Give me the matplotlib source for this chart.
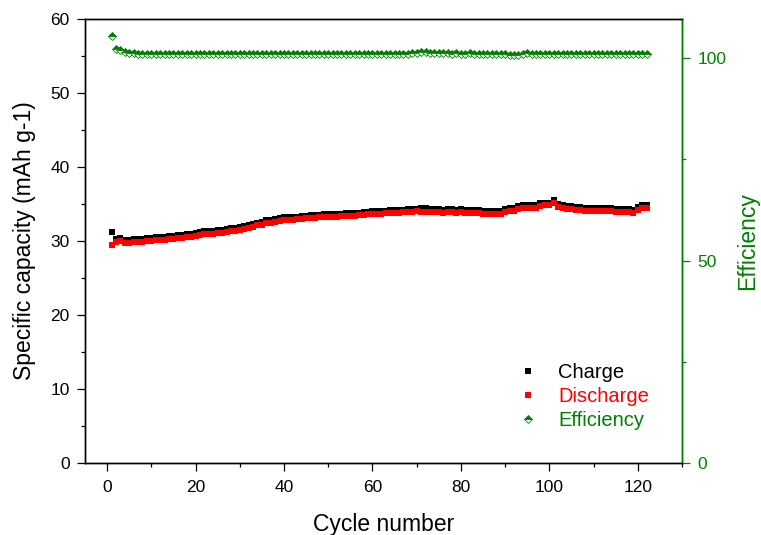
import numpy as np
import matplotlib
matplotlib.use("Agg")
import matplotlib.pyplot as plt
from matplotlib.ticker import MultipleLocator

plt.rcParams["font.family"] = ["Liberation Sans", "DejaVu Sans"]

cycles = list(range(1, 123))

charge = [
    31.2, 30.3, 30.4, 30.1, 30.1, 30.3, 30.3, 30.3, 30.4, 30.4,
    30.5, 30.5, 30.6, 30.7, 30.7, 30.8, 30.8, 30.9, 31.0, 31.1,
    31.2, 31.3, 31.3, 31.4, 31.5, 31.5, 31.6, 31.7, 31.8, 31.9,
    32.0, 32.2, 32.3, 32.5, 32.6, 32.8, 32.9, 33.0, 33.1, 33.2,
    33.2, 33.3, 33.3, 33.4, 33.4, 33.5, 33.5, 33.5, 33.6, 33.6,
    33.7, 33.7, 33.7, 33.8, 33.8, 33.8, 33.8, 33.9, 33.9, 34.0,
    34.0, 34.1, 34.1, 34.2, 34.2, 34.2, 34.2, 34.3, 34.3, 34.3,
    34.4, 34.4, 34.3, 34.3, 34.3, 34.2, 34.3, 34.3, 34.2, 34.3,
    34.2, 34.2, 34.2, 34.2, 34.1, 34.1, 34.1, 34.0, 34.1, 34.3,
    34.4, 34.5, 34.7, 34.8, 34.9, 34.8, 34.9, 35.1, 35.2, 35.2,
    35.5, 35.0, 34.8, 34.7, 34.7, 34.6, 34.6, 34.5, 34.5, 34.5,
    34.5, 34.4, 34.4, 34.4, 34.3, 34.3, 34.3, 34.3, 34.2, 34.6,
    34.8, 34.9,
]

discharge = [
    29.5, 29.9, 30.0, 29.7, 29.7, 29.9, 29.9, 29.9, 30.0, 30.0,
    30.1, 30.1, 30.2, 30.3, 30.3, 30.4, 30.4, 30.5, 30.6, 30.7,
    30.8, 30.9, 30.9, 31.0, 31.1, 31.1, 31.2, 31.3, 31.4, 31.5,
    31.6, 31.8, 31.9, 32.1, 32.2, 32.4, 32.5, 32.6, 32.7, 32.8,
    32.9, 32.9, 33.0, 33.0, 33.1, 33.1, 33.1, 33.2, 33.2, 33.3,
    33.3, 33.3, 33.4, 33.4, 33.4, 33.4, 33.5, 33.5, 33.6, 33.6,
    33.7, 33.7, 33.8, 33.8, 33.8, 33.8, 33.9, 33.9, 33.9, 34.0,
    33.9, 33.9, 33.9, 33.9, 33.9, 33.8, 33.9, 33.9, 33.8, 33.9,
    33.8, 33.8, 33.8, 33.8, 33.7, 33.7, 33.7, 33.6, 33.7, 33.9,
    34.0, 34.1, 34.3, 34.4, 34.5, 34.4, 34.5, 34.7, 34.8, 34.8,
    35.1, 34.6, 34.4, 34.3, 34.3, 34.2, 34.2, 34.1, 34.1, 34.1,
    34.1, 34.0, 34.0, 34.0, 33.9, 33.9, 33.9, 33.9, 33.8, 34.2,
    34.4, 34.5,
]

efficiency = [
    105.6, 102.2, 102.0, 101.6, 101.3, 101.2, 101.1, 101.1, 101.0, 101.1,
    101.0, 101.1, 101.0, 101.0, 101.1, 101.0, 101.0, 101.1, 101.0, 101.0,
    101.1, 101.0, 101.1, 101.0, 101.0, 101.1, 101.0, 101.1, 101.0, 101.0,
    101.1, 101.0, 101.1, 101.0, 101.1, 101.0, 101.0, 101.1, 101.0, 101.1,
    101.0, 101.1, 101.0, 101.0, 101.1, 101.0, 101.1, 101.0, 101.0, 101.1,
    101.0, 101.1, 101.0, 101.1, 101.0, 101.0, 101.1, 101.0, 101.1, 101.0,
    101.1, 101.0, 101.0, 101.1, 101.0, 101.1, 101.0, 101.1, 101.2, 101.4,
    101.6, 101.5, 101.3, 101.2, 101.3, 101.2, 101.2, 101.1, 101.2, 101.1,
    101.1, 101.2, 101.1, 101.1, 101.0, 101.1, 101.0, 101.0, 101.1, 101.0,
    100.9, 100.9, 100.8, 101.0, 101.2, 101.1, 101.0, 101.1, 101.0, 101.1,
    101.0, 101.1, 101.0, 101.0, 101.1, 101.0, 101.0, 101.1, 101.0, 101.0,
    101.1, 101.0, 101.0, 101.1, 101.0, 101.0, 101.1, 101.0, 101.0, 101.1,
    101.0, 101.1,
]

GREEN = "#008000"

fig = plt.figure(figsize=(7.61, 5.35), dpi=100)
ax = fig.add_axes([85 / 761, 72 / 535, 597 / 761, 444 / 535])
ax2 = ax.twinx()

h1, = ax.plot(cycles, charge, "s", color="black", ms=3.8, mew=0, label="Charge")
h2, = ax.plot(cycles, discharge, "s", color="red", ms=3.8, mew=0, label="Discharge")
h3, = ax2.plot(cycles, efficiency, "D", color=GREEN, ms=4.2, mew=0.6,
               fillstyle="top", markerfacecoloralt="white", label="Efficiency")

ax.set_xlim(-5, 130)
ax.set_ylim(0, 60)
ax2.set_ylim(0, 109.7)

ax.xaxis.set_major_locator(MultipleLocator(20))
ax.xaxis.set_minor_locator(MultipleLocator(10))
ax.yaxis.set_major_locator(MultipleLocator(10))
ax.yaxis.set_minor_locator(MultipleLocator(5))
ax2.yaxis.set_major_locator(MultipleLocator(50))
ax2.yaxis.set_minor_locator(MultipleLocator(25))

for a in (ax, ax2):
    a.tick_params(which="major", direction="out", length=6, width=0.9,
                  labelsize=12.5, pad=5)
    a.tick_params(which="minor", direction="out", length=3, width=0.9)
    for s in a.spines.values():
        s.set_linewidth(1.0)
ax.tick_params(axis="x", which="major", pad=6.5)
ax.tick_params(top=False, right=False)
ax.tick_params(which="minor", top=False, right=False)
ax2.tick_params(axis="y", which="both", colors=GREEN)
ax2.spines["right"].set_color(GREEN)

ax.set_xlabel("Cycle number", fontsize=16.5, labelpad=13)
ax.set_ylabel("Specific capacity (mAh g-1)", fontsize=16.5, labelpad=10)
ax2.set_ylabel("Efficiency", fontsize=16.5, color=GREEN, labelpad=7)

leg = ax2.legend(handles=[h1, h2, h3], loc="upper left",
                 bbox_to_anchor=(505 / 761, 1 - 355 / 535),
                 bbox_transform=fig.transFigure, frameon=False,
                 fontsize=14.5, handlelength=1.5, handletextpad=0.75,
                 labelspacing=0.25, borderaxespad=0, numpoints=1)
for txt, c in zip(leg.get_texts(), ["black", "red", GREEN]):
    txt.set_color(c)

fig.savefig("out.png", dpi=100)
